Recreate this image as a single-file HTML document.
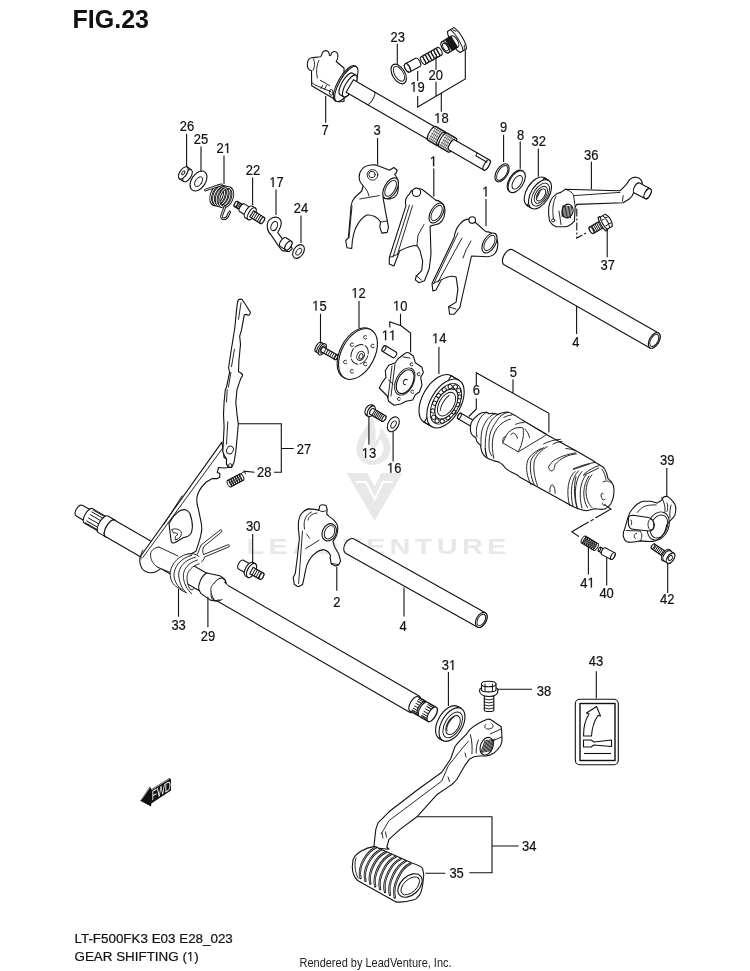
<!DOCTYPE html>
<html><head><meta charset="utf-8">
<style>
html,body{margin:0;padding:0;background:#fff;}
body{width:750px;height:971px;overflow:hidden;position:relative;}
svg{position:absolute;left:0;top:0;will-change:transform;}
.t{font-family:"Liberation Sans",sans-serif;font-size:14.1px;fill:#111;text-anchor:middle;stroke:#111;stroke-width:0.2;}
.l{stroke:#111;stroke-width:1.1;fill:none;}
.p{stroke:#111;stroke-width:1.1;fill:#fff;stroke-linejoin:round;stroke-linecap:round;}
.n{stroke:#111;stroke-width:0.9;fill:none;stroke-linecap:round;}
.wm{font-family:"Liberation Sans",sans-serif;font-weight:bold;fill:#ececec;}
</style></head><body>
<svg width="750" height="971" viewBox="0 0 750 971">
<!--WATERMARK-->
<g fill="#e8e8e8" stroke="none">
<path d="M346.7,473 L367.5,473 L374.6,486.5 L381.5,473 L402.4,473 L374.6,521.2 Z"/>
<path d="M372,417.5 C366,428 357,437 356.5,449 C356.5,458 363,464.5 372.5,465 C382,465 390.5,458 390.5,448.5 C390.5,440 385.5,434 381,427 C380,434 378,439 375,442 C376.5,433 375.5,424 372,417.5 Z"/></g><path d="M368,436 C364,443 362,449 363.5,454 C365.5,459 370,461 374,460 C380,458.5 384,453 383.5,447 C383,444 381.5,441 380,439 C379,444 376,448 372.5,449.5 C370.5,446 369,441 368,436 Z" fill="#fff"/><g fill="#e8e8e8" stroke="none">
<text transform="translate(246.5 553.5) scale(1.33 1)" style="font-family:'Liberation Sans',sans-serif;font-weight:bold;font-size:21.8px;letter-spacing:3.2px;">LEADVENTURE</text>
</g>
<path d="M356,482 L366,482 L374.6,499 L383,482 L393,482" fill="none" stroke="#fff" stroke-width="2.2"/>
<!--PARTS-->
<path class="p" d="M311.5,70.7 C308.5,70.5 307,67.5 307.3,64 C307.6,60.5 309,58.3 311.5,57.8 C314,57.3 317,57.5 320.5,56.8 C321.5,56.3 321.8,55 322.3,53 C323,51.3 324.5,50.5 326,50.6 C328,50.8 329.2,52.5 329.3,55 C329.8,55.8 330.3,55.8 330.8,55 C331.5,52.5 333,51.3 334.8,51.5 C336.5,51.8 337.8,53 337.9,55.5 C338,58 337.3,60 336.2,61.5 L344,68 L344,101.5 L339,101.7 L311.7,85.7 Z"/>
<path class="n" d="M319,60.5 C316.5,64 316,72 317.3,78 M313.5,59 C315,62 315,67 313,70.5 M311.7,82.5 L315,85 L331,91.7 M320.3,80.3 L329.7,85.7 M322.5,85.5 L321,88.5 M326.5,85.5 L324.5,89.5"/><ellipse class="n" cx="331.2" cy="92.3" rx="1.8" ry="3"/>
<g transform="translate(346.3,84) rotate(30)"><ellipse class="p" cx="-1.5" cy="0" rx="7" ry="20"/><path class="p" d="M-1.5,-20 H0 V20 H-1.5 Z" stroke="none"/><ellipse class="p" cx="0" cy="0" rx="7" ry="20"/><path class="p" d="M0,-12.5 H4 A4.5,12.5 0 0 1 4,12.5 H0 A4.5,12.5 0 0 1 0,-12.5 Z"/><ellipse class="p" cx="4" cy="0" rx="4.5" ry="12.5"/><path class="p" d="M4,-7.3 H100 V7.3 H4 Z" /><path class="n" d="M28,-7.3 A2.6,7.3 0 0 1 28,7.3"/><path class="p" d="M99,-8 H109.5 A2.88,8 0 0 1 109.5,8 H99 A2.88,8 0 0 1 99,-8 Z"/><path d="M98,-7.39 H109.5M98,-5.66 H109.5M98,-3.06 H109.5M98,-0.00 H109.5M98,3.06 H109.5M98,5.66 H109.5M98,7.39 H109.5" stroke="#111" stroke-width="0.45" fill="none"/><path d="M99.42,-8 v16M101.25,-8 v16M103.08,-8 v16M104.92,-8 v16M106.75,-8 v16M108.58,-8 v16" stroke="#111" stroke-width="0.45" fill="none"/><path class="p" d="M109.5,-7.2 H112 A2.592,7.2 0 0 1 112,7.2 H109.5 A2.592,7.2 0 0 1 109.5,-7.2 Z"/><path class="p" d="M112,-8 H122 A2.88,8 0 0 1 122,8 H112 A2.88,8 0 0 1 112,-8 Z"/><path d="M111,-7.39 H122M111,-5.66 H122M111,-3.06 H122M111,-0.00 H122M111,3.06 H122M111,5.66 H122M111,7.39 H122" stroke="#111" stroke-width="0.45" fill="none"/><path d="M112.38,-8 v16M114.12,-8 v16M115.88,-8 v16M117.62,-8 v16M119.38,-8 v16M121.12,-8 v16" stroke="#111" stroke-width="0.45" fill="none"/><path class="p" d="M122,-5.8 H162 A2.32,5.8 0 0 1 162,5.8 H122 A2.32,5.8 0 0 1 122,-5.8 Z"/><ellipse class="p" cx="162" cy="0" rx="2.32" ry="5.8"/><path class="n" d="M148,-5.8 V-2.6 H161"/></g>
<g transform="translate(398.7,74) rotate(-31)"><ellipse class="p" cx="0" cy="0" rx="6.2" ry="10.8"/><ellipse class="n" cx="0.3" cy="0" rx="4.3" ry="8.3"/></g>
<g transform="translate(407.5,67.8) rotate(-28)"><path class="p" d="M11.5,-4.7 H0 A2.35,4.7 0 0 0 0,4.7 H11.5 A2.35,4.7 0 0 0 11.5,-4.7 Z"/><ellipse class="p" cx="0" cy="0" rx="2.35" ry="4.7"/><path class="n" d="M1.5,-2 C2.5,-1 2.5,1 1.5,2"/></g>
<g transform="translate(423,60.6) rotate(-29.5)"><ellipse class="n" cx="0.00" cy="0" rx="1.85" ry="4.4"/><ellipse class="n" cx="3.17" cy="0" rx="1.85" ry="4.4"/><ellipse class="n" cx="6.33" cy="0" rx="1.85" ry="4.4"/><ellipse class="n" cx="9.50" cy="0" rx="1.85" ry="4.4"/><ellipse class="n" cx="12.67" cy="0" rx="1.85" ry="4.4"/><ellipse class="n" cx="15.83" cy="0" rx="1.85" ry="4.4"/><ellipse class="n" cx="19.00" cy="0" rx="1.85" ry="4.4"/><path class="n" d="M0,-4.4 H19 M0,4.4 H19"/></g>
<g transform="translate(445.2,47.2) rotate(-31)"><path class="p" d="M10,-12.3 L17.5,-12.3 C20.5,-7 20.5,7 17.5,12.3 L10,12.3 C7,7 7,-7 10,-12.3 Z"/><path class="n" d="M13.5,-12.3 C16,-6 16,6 13.5,12.3 M15.5,-11 L17.5,-8 M15.5,11 L17.5,8"/><path class="p" d="M11,-6.4 H0 A3.072,6.4 0 0 0 0,6.4 H11 A3.072,6.4 0 0 0 11,-6.4 Z"/><ellipse class="p" cx="0" cy="0" rx="3.072" ry="6.4"/><path class="n" d="M3.97,-6.4 v12.8M4.91,-6.4 v12.8M5.84,-6.4 v12.8M6.78,-6.4 v12.8M7.72,-6.4 v12.8M8.66,-6.4 v12.8M9.59,-6.4 v12.8M10.53,-6.4 v12.8" stroke-width="0.6"/><ellipse class="n" cx="0.3" cy="0" rx="2.2" ry="4.2"/></g>
<g transform="translate(185,174) rotate(34)"><path class="p" d="M-2,-7 H3 V7 H-2 Z"/><ellipse class="p" cx="3" cy="0" rx="3.5" ry="7"/><ellipse class="p" cx="-2" cy="0" rx="3.5" ry="7"/><ellipse class="n" cx="-2" cy="0" rx="1.2" ry="2.4"/></g>
<g transform="translate(198.5,181) rotate(34)"><ellipse class="p" cx="0" cy="0" rx="7" ry="11"/><ellipse class="n" cx="0.5" cy="0.5" rx="3.2" ry="5.5"/></g>
<ellipse cx="217.60" cy="195.20" rx="6.3" ry="10.2" transform="rotate(22 217.60 195.20)" fill="none" stroke="#111" stroke-width="2.7"/><ellipse cx="217.60" cy="195.20" rx="6.3" ry="10.2" transform="rotate(22 217.60 195.20)" fill="none" stroke="#fff" stroke-width="0.9"/><ellipse cx="220.37" cy="195.90" rx="6.3" ry="10.2" transform="rotate(22 220.37 195.90)" fill="none" stroke="#111" stroke-width="2.7"/><ellipse cx="220.37" cy="195.90" rx="6.3" ry="10.2" transform="rotate(22 220.37 195.90)" fill="none" stroke="#fff" stroke-width="0.9"/><ellipse cx="223.14" cy="196.60" rx="6.3" ry="10.2" transform="rotate(22 223.14 196.60)" fill="none" stroke="#111" stroke-width="2.7"/><ellipse cx="223.14" cy="196.60" rx="6.3" ry="10.2" transform="rotate(22 223.14 196.60)" fill="none" stroke="#fff" stroke-width="0.9"/><ellipse cx="225.91" cy="197.30" rx="6.3" ry="10.2" transform="rotate(22 225.91 197.30)" fill="none" stroke="#111" stroke-width="2.7"/><ellipse cx="225.91" cy="197.30" rx="6.3" ry="10.2" transform="rotate(22 225.91 197.30)" fill="none" stroke="#fff" stroke-width="0.9"/><path d="M221.3,184.8 L205.5,190 M225,206.7 L221.5,216 C221,219.5 226.5,221 228.8,213.5 L229.9,212" fill="none" stroke="#111" stroke-width="2.7" stroke-linecap="round"/><path d="M221.3,184.8 L205.5,190 M225,206.7 L221.5,216 C221,219.5 226.5,221 228.8,213.5 L229.9,212" fill="none" stroke="#fff" stroke-width="0.9" stroke-linecap="round"/>
<g transform="translate(236,204) rotate(32)"><path class="p" d="M7.5,-3 H0 A1.35,3 0 0 0 0,3 H7.5 A1.35,3 0 0 0 7.5,-3 Z"/><ellipse class="p" cx="0" cy="0" rx="1.35" ry="3"/><path class="n" d="M1.75,-3 v6M3.25,-3 v6M4.75,-3 v6M6.25,-3 v6" stroke-width="0.6"/><path class="p" d="M7,-4.5 H15 A2.025,4.5 0 0 1 15,4.5 H7 A2.025,4.5 0 0 1 7,-4.5 Z"/><path class="p" d="M15,-6.8 H18.5 A3.06,6.8 0 0 1 18.5,6.8 H15 A3.06,6.8 0 0 1 15,-6.8 Z"/><ellipse class="p" cx="18.5" cy="0" rx="3.06" ry="6.8"/><path class="p" d="M18.5,-3.6 H31 A1.6,3.6 0 0 1 31,3.6 H18.5 Z"/><path class="n" d="M20.60,-3.6 v7.2M22.80,-3.6 v7.2M25.00,-3.6 v7.2M27.20,-3.6 v7.2M29.40,-3.6 v7.2" stroke-width="0.6"/><ellipse class="p" cx="31" cy="0" rx="1.6" ry="3.6"/></g>
<g transform="translate(-0.8 1.6)"><path class="p" d="M270.5,218 C275.5,213.5 282.5,215.5 282,222.5 C281.5,226.5 279.5,228.5 278.5,231 L283,237 L289,239 L293,247 L290,250 L283,249 L279,244 L272,233.5 C267.5,229.5 266.5,221.5 270.5,218 Z"/><ellipse class="n" cx="275" cy="224.5" rx="3" ry="4.8" transform="rotate(22 275 224.5)"/></g>
<g transform="translate(286.5,244.3) rotate(34)"><path class="p" d="M-4,-5.2 H2.2 A2.6,5.2 0 0 1 2.2,5.2 H-4 A2.6,5.2 0 0 1 -4,-5.2 Z"/><ellipse class="p" cx="2.2" cy="0" rx="2.6" ry="5.2"/></g>
<g transform="translate(298.5,251.5) rotate(34)"><ellipse class="p" cx="0" cy="0" rx="5" ry="7.5"/><ellipse class="n" cx="0.3" cy="0" rx="2.2" ry="4"/></g>
<g transform="translate(502,172.8) rotate(32)"><ellipse class="p" cx="0" cy="0" rx="5.6" ry="10"/><ellipse class="n" cx="0.3" cy="0" rx="4.2" ry="8.3"/></g>
<g transform="translate(516.7,181.6) rotate(32)"><ellipse class="p" cx="-1" cy="0" rx="6.8" ry="12.2"/><ellipse class="p" cx="0" cy="0" rx="6.8" ry="12.2"/><ellipse class="n" cx="0.8" cy="0.3" rx="4" ry="7.6"/></g>
<g transform="translate(540,194.3) rotate(32)"><ellipse class="p" cx="-5" cy="0" rx="9" ry="16.3"/><path class="p" d="M-5,-16.3 H0 V16.3 H-5 Z" stroke="none"/><path class="n" d="M-5,-16.3 H0 M-5,16.3 H0"/><ellipse class="p" cx="0" cy="0" rx="9" ry="16.3"/><ellipse class="n" cx="0.6" cy="0" rx="7" ry="12.8"/><ellipse class="n" cx="1" cy="0" rx="5.2" ry="9.5"/><ellipse class="n" cx="1.2" cy="0" rx="3.6" ry="6.8"/><path d="M-1.5,-4 C-3,-1 -2.5,3 0,5.5 C-0.5,2 -0.5,-1 -1.5,-4 Z" fill="#333"/></g>
<path class="p" d="M548.8,206.8 C550,201 552,197.5 554.4,195.6 C556.5,193.5 558.5,192.8 560.8,192.4 L565.6,189.2 L591.2,190 L620,190.8 C622.5,188.5 624.5,186.5 626.4,184.4 L629.6,179.6 C631.5,177.8 633.5,177 636,177.2 C638,177.4 639.8,178.3 640.8,179.6 C641.8,181 642.3,182.5 642.4,184.4 L636,188 L632,196 L629.6,198.8 L623.2,202.8 L576.8,204.4 L575.2,206.8 L574.4,221.2 C571,225 568,226.5 565.6,226.8 L556,226.8 C553,225.5 551,223.5 549.6,221.2 C548.5,216.5 548.3,211 548.8,206.8 Z"/>
<path class="n" d="M573.6,195.6 L620,192.4 M565.6,189.2 C570,191 573,193 573.6,195.6 L575.2,206.8 M556,196.5 C553,201 552,210 553.5,219 M623.2,195.6 L622.4,201.2 M559,211 L561,224.5"/>
<ellipse class="p" cx="567.5" cy="211" rx="5.5" ry="7" transform="rotate(15 567.5 211)"/><path class="n" d="M563.0,205.5 L562.0,216.5 M564.4,205.7 L563.4,216.7 M565.8,205.9 L564.8,216.9 M567.2,206.1 L566.2,217.1 M568.6,206.3 L567.6,217.3 M570.0,206.5 L569.0,217.5 M571.4,206.7 L570.4,217.7 " stroke-width="0.6"/><circle class="n" cx="553.2" cy="220.4" r="1.6"/>
<g transform="translate(637,188) rotate(28)"><path class="p" d="M0,-5.6 H12 A2.8,5.6 0 0 1 12,5.6 H0 A2.8,5.6 0 0 1 0,-5.6 Z"/><ellipse class="p" cx="12" cy="0" rx="2.8" ry="5.6"/></g>
<g transform="translate(591.5,230.2) rotate(-30)"><path class="p" d="M13,-3.7 H0 A1.665,3.7 0 0 0 0,3.7 H13 A1.665,3.7 0 0 0 13,-3.7 Z"/><ellipse class="p" cx="0" cy="0" rx="1.665" ry="3.7"/><path class="n" d="M2.42,-3.7 v7.4M4.25,-3.7 v7.4M6.08,-3.7 v7.4M7.92,-3.7 v7.4M9.75,-3.7 v7.4M11.58,-3.7 v7.4" stroke-width="0.6"/><path class="p" d="M12,-7.8 L14,-7.8 C15.5,-4 15.5,4 14,7.8 L12,7.8 C10.5,4 10.5,-4 12,-7.8 Z"/><path class="p" d="M14,-7 L20,-7 C22.5,-3.5 22.5,3.5 20,7 L14,7 C12.5,3.5 12.5,-3.5 14,-7 Z"/><path class="n" d="M17,-7 C18.5,-3 18.5,3 17,7 M14.5,-3.5 H20.5 M14.5,3.5 H20.5"/></g>
<path class="p" d="M361.8,169.5 C364,166 368,164.8 375.2,164.8 L389.9,170.2 L390.6,169.5 L393.9,167.5 L397.2,170.2 L395.9,173.5 L394.5,174.2 C398.5,178 399.5,190 396.6,195 C394,199 388,200 383,197.5 L385.9,213.7 L388.5,227.1 L387.2,232.4 L381.9,233.1 L379.8,227.1 L380.5,221.7 C378,217 372,214.5 367.1,215 C360,218 355,228 353.7,233.8 L352.4,240.5 L351.7,248.5 L347,247.8 L345.7,240.5 L348.4,237.8 L351.1,205.7 C352,199 356,196 361.8,191 L363.1,185.6 C358,181 358,174 361.8,169.5 Z"/>
<circle class="n" cx="372.5" cy="174.9" r="5.3"/><circle class="n" cx="372" cy="174.5" r="3.2"/><path class="n" d="M359.8,199 L379.2,195.6 M363,186 C366,188 368,192 369,196 M352,206 L349,238 M381,222 L387,221"/>
<g transform="translate(390.6,188.3) rotate(30)"><ellipse class="p" cx="0" cy="0" rx="6.2" ry="11.5"/><ellipse class="n" cx="0" cy="0" rx="4.5" ry="8.8"/></g>
<path class="p" d="M409.7,193.6 C411,189 420,187.5 423,190 L435.7,200.1 C442,201 445.5,206 444.9,212 C444.5,219 441,224 436,224.5 L430.1,226.1 L431,253.9 L429.2,268.7 L424.5,280.8 L419,282.7 L415.3,279.9 L416.2,276.2 L421.7,270.6 L422.7,261.3 L419.9,250.2 L417.1,245.5 C412,245.5 406,247.4 399.5,251.1 L398.6,253.9 L393.9,266 L389.3,264.1 L389.3,257.6 L406,205.7 C404.5,201 406,197 409.7,193.6 Z"/>
<path class="n" d="M412.5,205.7 L397.6,253.9 M409.5,205 L393,257 M389.5,257.5 L398.5,254 M416,275.5 L421.5,280 M424,224.5 L418,235 L417,245"/><circle class="p" cx="416.5" cy="192.3" r="4.2"/>
<g transform="translate(436.6,213) rotate(30)"><ellipse class="p" cx="0" cy="0" rx="6" ry="11"/><ellipse class="n" cx="0" cy="0" rx="4.3" ry="8.5"/></g>
<path class="p" d="M459.8,224.2 C463,220 468,218.5 472,219.5 L485.8,231.6 C493,232 498,237 497.8,245 C497.5,252 494,256 488,256.7 L471.5,256 L463.5,291 L459.8,307.7 L454.2,314.2 L449.6,314.2 L448.6,306.8 L456.1,302.1 L457.9,289.1 L456.1,277.1 C453,275.5 447,276.5 441.2,279.9 L436,290 L432.9,291 L432,283.6 L454.2,237.2 C455,232 456.5,228 459.8,224.2 Z"/>
<path class="n" d="M462,238 L438,282 M458,233 L434,283 M432.5,284 L440,280 M449,307 L456,309 M471,241 L466,250 L463,258"/><circle class="p" cx="472.2" cy="220.1" r="3.3"/>
<g transform="translate(489.5,243) rotate(30)"><ellipse class="p" cx="0" cy="0" rx="6" ry="11"/><ellipse class="n" cx="0" cy="0" rx="4.3" ry="8.5"/></g>
<g transform="translate(508.3,257.2) rotate(29.7)"><path class="p" d="M0,-8.6 H168 A4.73,8.6 0 0 1 168,8.6 H0 A4.73,8.6 0 0 1 0,-8.6 Z"/><ellipse class="p" cx="168" cy="0" rx="4.73" ry="8.6"/><ellipse class="n" cx="168" cy="0" rx="3.6" ry="6.6"/></g>
<g transform="translate(322.3,349.3) rotate(30)"><path class="p" d="M-5.5,-5.2 L-1.5,-5.6 C0,-3 0,3 -1.5,5.6 L-5.5,5.2 C-7.3,3 -7.3,-3 -5.5,-5.2 Z"/><path class="n" d="M-4,-5.3 C-5,-2 -5,2 -4,5.3"/><ellipse class="p" cx="0" cy="0" rx="2.9" ry="6.2"/><ellipse class="n" cx="0.3" cy="0" rx="1.9" ry="4.1"/><path class="p" d="M0.3,-2.6 H16 A1.3,2.6 0 0 1 16,2.6 H0.3 A1.2,2.6 0 0 1 0.3,-2.6 Z"/><path class="n" d="M3.12,-2.6 v5.2M5.38,-2.6 v5.2M7.62,-2.6 v5.2M9.88,-2.6 v5.2M12.12,-2.6 v5.2M14.38,-2.6 v5.2" stroke-width="0.6"/><ellipse class="p" cx="16" cy="0" rx="1.2" ry="2.6"/></g>
<g transform="translate(358,354) rotate(28)"><ellipse class="p" cx="-1.6" cy="0" rx="16.5" ry="27.5"/><ellipse class="p" cx="0" cy="0" rx="16.5" ry="27.5"/></g>
<ellipse class="n" cx="359.6" cy="354.3" rx="8.2" ry="10.2" transform="rotate(28 359.6 354.3)" stroke-dasharray="9,2"/><ellipse class="n" cx="360.6" cy="355.8" rx="3.6" ry="4.8" transform="rotate(28 360.6 355.8)"/><ellipse class="n" cx="361" cy="356.3" rx="1.8" ry="2.8" transform="rotate(28 361 356.3)"/>
<path class="n" d="M366.5,335.90000000000003 A1.8,1.8 0 1 0 366.8,338.40000000000003" stroke-width="1.4"/>
<path class="n" d="M373.9,344.6 A1.8,1.8 0 1 0 374.2,347.1" stroke-width="1.4"/>
<path class="n" d="M366.5,362.6 A1.8,1.8 0 1 0 366.8,365.1" stroke-width="1.4"/>
<path class="n" d="M353.2,369.90000000000003 A1.8,1.8 0 1 0 353.5,372.40000000000003" stroke-width="1.4"/>
<path class="n" d="M346.5,360.6 A1.8,1.8 0 1 0 346.8,363.1" stroke-width="1.4"/>
<path class="n" d="M353.2,343.3 A1.8,1.8 0 1 0 353.5,345.8" stroke-width="1.4"/>
<g transform="translate(384,348.5) rotate(31)"><path class="p" d="M12.5,-3.2 H0 A1.4400000000000002,3.2 0 0 0 0,3.2 H12.5 A1.4400000000000002,3.2 0 0 0 12.5,-3.2 Z"/><ellipse class="p" cx="0" cy="0" rx="1.4400000000000002" ry="3.2"/></g>
<path class="p" d="M402.7,355.3 C404.5,353 407,352.3 408.7,352.7 L413.3,356 L415.3,362.7 L422,367.3 L423.3,372.7 L420.7,377.3 L422,385.3 L419.3,392 L415.3,394.7 L412.7,400 L406,401.3 L400.7,404 L394,405.3 L388.7,401.3 L387.3,396 L383.3,392 L379.3,388 L382,382.7 L386,377.3 L385.3,370.7 L388.7,365.3 L395.3,362.7 L398,358.7 Z"/>
<g transform="translate(404.8,381.5) rotate(27)"><ellipse class="n" cx="0" cy="0" rx="8.8" ry="14.6"/><ellipse class="p" cx="0.4" cy="0" rx="7.6" ry="12.8"/><path class="n" d="M1.5,-2.6 A2.2,2.8 0 1 0 2.2,2.4"/></g>
<path class="n" d="M392,366 L388,398 M395,364 L391,396 M403,357 L410,358 M388.5,380 L393,384"/>
<path class="n" d="M413.0,363.40000000000003 A1.6,1.6 0 1 0 412.8,365.5"/>
<path class="n" d="M420.1,373.20000000000005 A1.6,1.6 0 1 0 419.90000000000003,375.3"/>
<path class="n" d="M413.8,390.90000000000003 A1.6,1.6 0 1 0 413.6,393.0"/>
<path class="n" d="M400.3,398.0 A1.6,1.6 0 1 0 400.1,400.09999999999997"/>
<g transform="translate(445.5,403.5) rotate(30)"><ellipse class="p" cx="-9" cy="0" rx="15" ry="26.9"/><path class="p" d="M-9,-26.9 H0 V26.9 H-9 Z" stroke="none"/><path class="n" d="M-9,-26.9 H0 M-9,26.9 H0"/><ellipse class="p" cx="0" cy="0" rx="15" ry="26.9"/><ellipse class="n" cx="0.5" cy="0" rx="12.6" ry="22.3"/><circle class="n" cx="11.44" cy="3.35" r="2.1" stroke-width="0.7"/><circle class="n" cx="9.57" cy="11.27" r="2.1" stroke-width="0.7"/><circle class="n" cx="5.97" cy="16.95" r="2.1" stroke-width="0.7"/><circle class="n" cx="1.34" cy="19.28" r="2.1" stroke-width="0.7"/><circle class="n" cx="-3.40" cy="17.78" r="2.1" stroke-width="0.7"/><circle class="n" cx="-7.30" cy="12.77" r="2.1" stroke-width="0.7"/><circle class="n" cx="-9.60" cy="5.23" r="2.1" stroke-width="0.7"/><circle class="n" cx="-9.84" cy="-3.35" r="2.1" stroke-width="0.7"/><circle class="n" cx="-7.97" cy="-11.27" r="2.1" stroke-width="0.7"/><circle class="n" cx="-4.37" cy="-16.95" r="2.1" stroke-width="0.7"/><circle class="n" cx="0.26" cy="-19.28" r="2.1" stroke-width="0.7"/><circle class="n" cx="5.00" cy="-17.78" r="2.1" stroke-width="0.7"/><circle class="n" cx="8.90" cy="-12.77" r="2.1" stroke-width="0.7"/><circle class="n" cx="11.20" cy="-5.23" r="2.1" stroke-width="0.7"/><ellipse class="p" cx="1" cy="0" rx="9.4" ry="16.6"/><ellipse class="n" cx="1.2" cy="0" rx="7.4" ry="13"/><path class="n" d="M-1,-9 C-3,-3 -3,4 -1,9"/></g>
<g transform="translate(371.3,411.3) rotate(30)"><ellipse class="p" cx="-2.2" cy="0" rx="3.9" ry="5.9"/><path class="p" d="M-2.2,-5.9 H0 V5.9 H-2.2 Z" stroke="none"/><ellipse class="p" cx="0" cy="0" rx="3.3" ry="5.9"/><path class="p" d="M0.3,-3.3 H14.5 A1.5,3.3 0 0 1 14.5,3.3 H0.3 A1.4,3.3 0 0 1 0.3,-3.3 Z"/><path class="n" d="M2.65,-3.3 v6.6M4.35,-3.3 v6.6M6.05,-3.3 v6.6M7.75,-3.3 v6.6M9.45,-3.3 v6.6M11.15,-3.3 v6.6" stroke-width="0.6"/><ellipse class="p" cx="14.5" cy="0" rx="1.5" ry="3.3"/></g>
<g transform="translate(393.3,424.3) rotate(30)"><ellipse class="p" cx="0" cy="0" rx="5.2" ry="8"/><ellipse class="n" cx="0.3" cy="0" rx="2.2" ry="3.8"/></g>
<g transform="translate(459.5,416) rotate(30)"><path class="p" d="M13.5,-3.2 H0 A1.4400000000000002,3.2 0 0 0 0,3.2 H13.5 A1.4400000000000002,3.2 0 0 0 13.5,-3.2 Z"/><ellipse class="p" cx="0" cy="0" rx="1.4400000000000002" ry="3.2"/></g>
<path class="p" d="M471.7,421.7 C473,419 474.5,417.5 476.4,416.4 C478,414.5 480,413.3 481.7,412.7 C483.5,412.2 485,412.2 486.4,412.4 C487.5,412.7 488.5,413.3 489.1,413.7 C490.5,413.3 492,413.2 493.1,413.4 L497.8,414.4 C499.5,413.5 501,413 502.5,412.7 C504.5,412.2 506,412 507.8,412 C509.5,412.3 510.8,413 511.9,413.7 L515,415.4 L522.9,420.4 L546.7,434.7 L576,450.7 L592,460 L596,462.7 L602.7,466.7 C605,469 606,471 606.7,473.3 L608,478.7 C609,479.5 611,481 612,482.7 C613.5,485 614,487 614,489.3 C614,492 613.8,495 613.3,497.3 C612.5,500 611.8,502 610.7,504 C609,506.5 607.5,508 605.3,508.7 C603.5,509.3 601.5,509.5 600,509.3 L594.7,508.7 L586.7,510.7 C584,510.5 582,510 580,509.3 L573.3,506.7 L546.7,492 L520,477.3 L517.3,475 L511.7,472.2 C509,471 507,469.5 505.2,467.9 C504,466.3 503.3,465.3 502.5,464.6 C501,463.3 499.8,462.5 498.5,461.9 L493.1,460.6 C491,459.7 489,458.9 487.1,457.9 C485.5,457 484.5,456.2 483.7,455.2 C482.5,453.5 481.6,451.5 481.1,449.2 C480.9,447.7 480.7,446.4 480.4,445.2 C479,443.8 477.8,442.8 477,441.8 C476.5,440.3 476.2,438.9 475.7,437.8 C474.5,436.8 473.3,436 472.4,435.1 C471.5,434 471,433 470.7,431.8 C470.4,430 470.3,428.5 470.4,427.1 C470.5,425 471,423 471.7,421.7 Z"/>
<path class="n" d="M486.4,412.4 C480,415 476,425 476.4,431.8 C476.5,434 476.8,436 477,437.1 M494.5,413.7 C488,416 483,425 481.7,431.8 C480.8,437 480.8,442 481.1,445.2 M498.5,414.4 C492,417 488,425 486.5,432 C485,440 485,447 485.7,451.9 C486,454 486.5,456 487.1,457.2 M507.8,412.4 C502,414 499,417 497.1,420.4 C493,426 490.5,431 489.8,435.1 C489,440 488.8,445 489.1,448.5 C489.5,451.5 490.5,454 491.8,455.9 M510.5,419.1 C506,420.5 502.5,422.5 499.8,425.1 C496,429 494,433 493.1,437.1 C492.3,441 492.2,445 492.4,448.5 C492.7,452 493.2,455.5 493.8,458.5 M503.8,417.4 C506.5,416 509,415.3 511.9,415 M485.1,448.5 C485.3,451 485.8,453.8 486.4,455.9" stroke-width="1"/>
<path class="n" d="M502.9,443 C502.5,441 502.7,439.5 503.4,438.3 C503.8,437.3 504.5,436.6 505.3,436.4 M503.4,441.5 C505,438 506.5,435 508.1,432.7 C510.5,430.5 513,429 515.5,428.1 C518,427.5 520,427.4 522.1,427.6 M510.9,434.6 C511.5,433.5 512.5,433 513.7,433.2 C515.5,433.8 517,436 517.4,438.3 M523,428.1 C523.6,431 523.6,434.5 523,438.3 C522,443 520.5,448 518.3,451.4 M524.9,429 C527,431 528.8,434 529.5,437.4 M502.9,443 L518.3,451.9 L545.4,435.5 M515.5,424.3 C518,423.2 521,422.6 524,422.5 M522.9,420.4 L546.7,434.2"/>
<path class="n" d="M543.6,444 C548,441.5 554,439.8 560.4,439.3 M541.3,448.5 C535,451.5 529.5,455.5 527.5,461 C525.5,468 527,477 531,484.8 M544,447.5 C538,451 533,455 531,460.5 C529.5,467 530.5,477 534.5,485.5 M547.3,446.5 C541.5,450 536.5,455 534.5,460.5 C533,467 534,477 537.5,485.5 M575.5,452.8 C570,454 563,455.5 558.4,458.1 C554,460 551.5,462 550.9,463.5 C549,465.5 548.5,466.8 548.8,467.7 C549,469.5 549.8,470.5 550.9,470.9 C552.5,471.2 553.5,470 554.1,468.8 C554.5,466.5 555,465 555.2,464.5 C558,461 561,459 564.8,457.1 C568.5,455.3 572.5,454.2 576.5,453.9 M549.9,492 C549.5,488 550.5,485.5 552,484.8 C553.5,484.8 555,487.5 555.2,493.3 M565.9,448.5 C569,448.7 572.5,449.5 575.5,450.7 M553,444 C556,442.5 559,441.8 562,441.5"/>
<path class="n" d="M573.3,468.8 C580,466 588,463.5 594.7,462.4 M575,471.5 C568,477 566,492 569.5,505.5 M578.5,470.8 C571.5,477.5 569.5,492 573,506.5 M582,471.5 C575.5,478 573.5,493 577,507.5 M584,474.1 C589,470 594,467 599,465.6 M586,475 C580,482 578.5,495 582,508 M576,476.8 C573.5,486 574,500 577.5,509 M592,474.8 C584,484 584,500 592,507.6 M589,476 C582.5,485 582,499 587.5,507.5"/>
<path class="n" d="M573.3,469.4 L589.4,464 M583.4,475.4 L598.8,468 M602,469.4 C604,472 605.5,476 606,479.5 M603,482 C606,480.3 609,480.5 611,483 M603.5,494 C601,491 600,496 602.5,499.5 C603.5,500.3 604.5,500 605.3,499 M602.5,503 C602,504.8 603.5,505.8 605.3,504.5"/>
<path class="p" d="M623.4,536.7 C623,533 623.5,531 624.3,530.1 L628.1,517.1 C629,514 630,512 631.3,510.5 C633.5,507.5 635.5,505.5 637.4,504 C639.5,502.5 641,501.6 643,501.2 L650.5,501.2 C653,501.5 655,502.2 657,503.1 L661.7,500.3 C662.5,498.5 663,497.5 663.6,497 C665,496.3 666,496.3 667.3,496.5 C669,497.3 670,498.2 671,499.3 C673,501.5 674,502.8 674.8,504 C675.7,506.5 676,508.5 675.7,510.5 C675.5,512.5 675.2,514 674.8,515.2 C673.5,517.5 672,519 671,519.9 L667.3,523.6 C666.5,526 666,528 665.4,530.1 C664.5,533 663,535 661.7,536.7 C660,538.5 657.5,540 655.1,540.9 C652,541.6 649,541.6 646.7,541.4 L640.2,540.9 C637,541.5 634,542.3 630.9,542.3 C629,542.2 627.5,541.9 626.2,541.4 C624.5,540 623.8,538.5 623.4,536.7 Z"/>
<ellipse class="n" cx="658.3" cy="526" rx="10.4" ry="14.6" transform="rotate(22 658.3 526)"/><ellipse class="n" cx="659" cy="526.5" rx="8.2" ry="12" transform="rotate(22 659 526.5)"/><path class="n" d="M637.4,512.4 C640,509 643,506.5 645.8,505.9 C649.5,505 653,504.8 656.1,504.9 M661.7,497.5 C664,502 665.5,506 665,512 M667,503 C668,506 668,509 667,511.5 M671,505 C670,509 669.5,514 670,518 M626,530.5 L640,531 C642.5,534 642.5,538 640.2,540.9 M636.5,533.5 C634,533.5 633,537 635.5,538.5"/>
<path class="p" d="M628.5,517 C629.5,515.6 631,515.2 633,515.2 L648.6,517.5 C652,518.5 654.2,522 654.2,525.5 C654.2,529 652,531 648.6,531 L633,529.2 C630,529 628.5,527 628.3,523 Z"/><ellipse class="n" cx="651" cy="524.5" rx="3" ry="5.5"/><path class="n" d="M631,520 C632,522 632,524 631,525"/>
<g transform="translate(583.5,539.5) rotate(31)"><ellipse class="n" cx="0.00" cy="0" rx="1.60" ry="4"/><ellipse class="n" cx="2.07" cy="0" rx="1.60" ry="4"/><ellipse class="n" cx="4.14" cy="0" rx="1.60" ry="4"/><ellipse class="n" cx="6.21" cy="0" rx="1.60" ry="4"/><ellipse class="n" cx="8.29" cy="0" rx="1.60" ry="4"/><ellipse class="n" cx="10.36" cy="0" rx="1.60" ry="4"/><ellipse class="n" cx="12.43" cy="0" rx="1.60" ry="4"/><ellipse class="n" cx="14.50" cy="0" rx="1.60" ry="4"/><path class="n" d="M0,-4 H14.5 M0,4 H14.5"/></g>
<g transform="translate(599.5,549.2) rotate(27)"><path class="p" d="M0,-2.3 H5 V2.3 H0 Z"/><ellipse class="p" cx="0" cy="0" rx="1" ry="2.3"/><path class="p" d="M4.5,-3.8 H15 A1.71,3.8 0 0 1 15,3.8 H4.5 A1.71,3.8 0 0 1 4.5,-3.8 Z"/><ellipse class="p" cx="15" cy="0" rx="1.71" ry="3.8"/></g>
<g transform="translate(653,546.3) rotate(34)"><path class="p" d="M0,-2.8 H16 V2.8 H0 Z"/><ellipse class="p" cx="0" cy="0" rx="1.3" ry="2.8"/><path class="n" d="M2.38,-2.8 v5.6M4.12,-2.8 v5.6M5.88,-2.8 v5.6M7.62,-2.8 v5.6M9.38,-2.8 v5.6M11.12,-2.8 v5.6M12.88,-2.8 v5.6M14.62,-2.8 v5.6" stroke-width="0.6"/><path class="p" d="M15.5,-6.4 H17 A3.2,6.4 0 0 1 17,6.4 H15.5 A3.2,6.4 0 0 1 15.5,-6.4 Z"/><path class="p" d="M17,-5.9 H21.2 A3.2450000000000006,5.9 0 0 1 21.2,5.9 H17 A3.2450000000000006,5.9 0 0 1 17,-5.9 Z"/><ellipse class="p" cx="21.2" cy="0" rx="3.2450000000000006" ry="5.9"/><path class="n" d="M20.5,-3 L22.8,-1.5 L22.8,1.5 L20.5,3 L19.2,1.2 L19.2,-1.2 Z"/></g>
<g transform="translate(110,528.3) rotate(30)"><path class="p" d="M-25,-6.2 H-35 C-40,-6.2 -40,6.2 -35,6.2 H-25 Z"/><path class="p" d="M-25,-8.3 H-8 A3.486,8.3 0 0 1 -8,8.3 H-25 A3.486,8.3 0 0 1 -25,-8.3 Z"/><path class="n" d="M-24,-7.48 H-8.5M-24,-5.17 H-8.5M-24,-1.85 H-8.5M-24,1.85 H-8.5M-24,5.17 H-8.5M-24,7.48 H-8.5" stroke-width="0.6"/><path class="p" d="M-8,-9.6 H0 A4.032,9.6 0 0 1 0,9.6 H-8 A4.032,9.6 0 0 1 -8,-9.6 Z"/><ellipse class="p" cx="0" cy="0" rx="4.032" ry="9.6"/><path class="p" d="M0,-9.4 H352 A3.948,9.4 0 0 1 352,9.4 H0 A3.948,9.4 0 0 1 0,-9.4 Z"/></g>
<path class="p" d="M224.1,457.6 L226.5,458.8 L226.5,463.8 L228.4,467.5 L224,468 L218.5,467.5 L217.3,472.4 L219.8,473.6 L219.8,477.3 L217.3,478.6 L212.3,478.6 L206.3,482 C202,486 199,490 197.5,495 C196,500 197,505 198.5,509.7 L201,521.9 C202,527 202,531 201,534 C200,540 198,545 195.9,551.3 L180,560 L160.3,568.7 C157,572 153,573 149.7,572.7 C145,572 142,569 141.3,566.9 C139.5,563 139.5,559 140.4,556.5 L221.9,442.1 Z"/>
<path class="n" d="M224.5,445.6 L142.8,557.6 M182,495.9 L163.8,524.5 M143,550 C141,553 140.5,556 141,559"/>
<path class="p" d="M169,523.6 C172,518 176,513 180.3,510.6 C182,509.8 184,509.5 185.5,509.7 C187.5,510.5 189,512 189.8,513.2 C191.5,518 192.5,523 192.4,527 C192.2,530.5 191.5,532.5 190.7,534 C188.5,536.5 186,537.5 183.7,537.5 L176,542 C173,544 171,543 171,540 Z"/>
<path class="n" d="M172,529.5 C175,528 179,529 181,531.5 C182,534 181,537 178.5,538.5 L175.5,540 C174.5,537.5 175.5,535.5 177.5,535 C178,533.5 176,532 174,533 Z"/>
<path class="p" d="M237.7,301.6 C238,300 239,299.1 240.5,299.1 C241.5,299.1 242.5,299.8 243,300.8 L246.3,305.7 L250.4,312.3 C250,314 249.5,315 248.8,315.2 C248,315.4 247,314.6 246.3,314.4 C245.3,314.4 244.5,314.8 244.2,315.2 L243.4,319.7 L241.4,330.4 L239.7,336.2 L240.5,344.4 L239.7,352.7 L238.9,360.9 L238.5,371.6 C239.5,372 241,372.5 242.6,374.9 C242.4,376.5 241.5,377.5 240.7,378.6 L237,389.7 L235.8,402 L237,414.4 L238.3,424.3 L237,439 L235.8,451.4 L234,462.5 L233.3,463.8 C232.5,466 232,467.3 231.5,467.5 L228.4,467.5 L226.5,463.8 L226.5,458.8 L224.7,456.4 L222.8,451.4 L223.5,439 L224.1,426.7 L223.5,414.4 L224.1,402 L225.3,389.7 L226.5,387.2 L229.6,372.4 L228.6,367.5 L231.5,348.5 L234.8,328 L236.8,307.4 Z"/>
<path class="n" d="M241,302.8 L238.5,319.3 M234.4,349.4 L231.5,366.7 M230.9,372.4 L228.4,387.2 M227.2,389.7 L226.5,402 M227.8,421.8 L226.5,444"/><ellipse class="n" cx="230" cy="450" rx="3.2" ry="4" transform="rotate(25 230 450)"/><circle class="n" cx="230.3" cy="465.5" r="1.8"/>
<g transform="translate(229.3,483.6) rotate(-28)"><ellipse class="n" cx="0.00" cy="0" rx="1.67" ry="3.7"/><ellipse class="n" cx="2.33" cy="0" rx="1.67" ry="3.7"/><ellipse class="n" cx="4.67" cy="0" rx="1.67" ry="3.7"/><ellipse class="n" cx="7.00" cy="0" rx="1.67" ry="3.7"/><ellipse class="n" cx="9.33" cy="0" rx="1.67" ry="3.7"/><ellipse class="n" cx="11.67" cy="0" rx="1.67" ry="3.7"/><ellipse class="n" cx="14.00" cy="0" rx="1.67" ry="3.7"/><path class="n" d="M0,-3.6 H14 M0,3.6 H14 M14,-2 C17,-5 20,-3 19,-1"/></g>
<path d="M158.8,547 L192,562.5 L185,585 L168.4,571.5 L157.7,567.2 C152,565 149.5,556 152,551 C153.5,548.5 156,547 158.8,547 Z" fill="#fff"/>
<path class="n" d="M158.8,547 L178,556 M157.7,567.2 L172,573.2 M158.8,547 C155,547.5 151,550 150.6,554 C150.3,558.5 152,563.5 157.7,567.2" stroke-width="1.1"/>
<path d="M188,553.9 C176,556 169,568 170.3,575.8 C171,582 174,586 178.7,588 L191.7,593.6 C189,590 187,584 187,576.7 C187.5,571 192,566 199.2,563.7 C199,560 195,555 188,553.9 Z" fill="#fff"/>
<path class="n" d="M188,553.9 C176,556 169,568 170.3,575.8 C171,582 174,586 178.7,588 M191.7,555.3 C180,558 173.5,568 174,575.8 C174.5,582 178,587 182.4,589.8 M195.5,557.1 C184,560 178.5,568 178.7,574.9 C179,582 182,589 186.1,592.6 M197.3,560 C188,563 183.5,569 183.3,575.8 C183.5,583 187,590 191.7,593.6 M199.2,563.7 C192,566 187.5,571 187,576.7 C186.8,581 188,586 189.9,588.9 C191,590.5 193.5,590 194,588.5" stroke-width="1.35"/>
<path class="n" d="M188,553.9 C192,553 196,554 199,556.5 M178.7,588 C180,590 183,591 186.1,592.6"/>
<path class="n" d="M197.3,554.3 C199,551.5 199.5,548 201.1,545 L220.3,530 C221.5,529.3 222.5,531 221.5,532 L203.8,546.5 C202.5,548.5 202.5,552 203.5,554.5 L228.3,544.7 C229.5,544.5 230,546 229,546.8 L204.5,557 C204,559 203,561 201.5,562"/>
<path class="p" d="M206.7,573 L219.8,575.8 C222,577 224,578.5 225.4,580.5 C226.5,584 226.5,592 224,597 C222,600 219,601.5 215,601 L210.4,600.1 L201.1,593.6 C198.5,590 198,587 199.2,584.2 C200.5,579 203,575 206.7,573 Z"/>
<ellipse class="n" cx="218.6" cy="589.3" rx="6.8" ry="11.8" transform="rotate(22 218.6 589.3)"/><path d="M215.1,582.3 C219,581.5 222,581.8 224.4,582.3 L228.5,585.6 L226,599 L214.2,599.4 C211,596 210,592 210.9,589.8 C211,586 213,583.5 215.1,582.3 Z" fill="#fff"/><path class="n" d="M215.1,582.3 C211.5,585 210.5,588 210.9,589.8 C211,593 212,597 214.2,599.2 M224.4,582.3 L228.5,585.8"/>
<g transform="translate(110,528.3) rotate(30)"><path class="p" d="M351,-8.2 H360 A3.69,8.2 0 0 1 360,8.2 H351 A3.69,8.2 0 0 1 351,-8.2 Z"/><path class="n" d="M352.5,-7.71 H359.5M352.5,-6.28 H359.5M352.5,-4.10 H359.5M352.5,-1.42 H359.5M352.5,1.42 H359.5M352.5,4.10 H359.5M352.5,6.28 H359.5M352.5,7.71 H359.5" stroke-width="0.8"/><path class="p" d="M360,-7.4 H362 A3.33,7.4 0 0 1 362,7.4 H360 A3.33,7.4 0 0 1 360,-7.4 Z"/><path class="p" d="M362,-8.2 H372 A3.69,8.2 0 0 1 372,8.2 H362 A3.69,8.2 0 0 1 362,-8.2 Z"/><path class="n" d="M363.5,-7.71 H370M363.5,-6.28 H370M363.5,-4.10 H370M363.5,-1.42 H370M363.5,1.42 H370M363.5,4.10 H370M363.5,6.28 H370M363.5,7.71 H370" stroke-width="0.8"/><ellipse class="p" cx="372" cy="0" rx="3.6" ry="8.2"/></g>
<g transform="translate(251.5,570.5) rotate(29)"><path class="p" d="M-2,-5 H-12 C-15.5,-5 -15.5,5 -12,5 H-2 Z"/><path class="p" d="M-2.5,-7.8 H0 A3.9,7.8 0 0 1 0,7.8 H-2.5 A3.9,7.8 0 0 1 -2.5,-7.8 Z"/><ellipse class="p" cx="0" cy="0" rx="3.9" ry="7.8"/><path class="p" d="M0,-3.6 H11.5 A1.7,3.6 0 0 1 11.5,3.6 H0 Z"/><path class="n" d="M2.62,-3.6 v7.2M4.88,-3.6 v7.2M7.12,-3.6 v7.2M9.38,-3.6 v7.2" stroke-width="0.6"/><ellipse class="p" cx="11.5" cy="0" rx="1.7" ry="3.6"/></g>
<path class="p" d="M298.4,522.8 C299,518 300,515.5 301.5,513.5 C304,510.5 306.5,509.3 308.7,508.9 L314.9,509.4 L319,510.4 L319.5,506.3 C320.5,505 321.3,504.8 322.1,504.8 C324,504.8 325.5,505.2 326.2,505.8 L327.2,509.4 L326.7,514 L329.3,516.6 C331.5,518 333,519 334.4,520.7 C336,522.5 337,524 337.5,525.9 C338,529 337.8,531.5 337,534.1 C336.3,536.5 335.5,538 334.4,539.3 L332.9,541.3 L334.4,546.5 L338.6,553.7 L340.6,560.9 L338.6,565 L335.5,566.1 L331.3,564 L330.3,558.9 L330.3,554.7 C329,552.5 327.5,551 326.2,550.6 L323.1,549.6 C320,550 318,551 315.9,552.7 C312,555.5 310,558 308.7,560.9 C307,564 306,567 305.6,570.2 L303.5,580.5 L302.5,584.6 L298.4,586.7 L294.3,584.6 L293.2,577.4 L295.3,573.3 L297.4,556.8 L299.4,538.3 L298.4,529 Z"/>
<ellipse class="p" cx="329.2" cy="532.3" rx="6.8" ry="9" transform="rotate(25 329.2 532.3)"/><ellipse class="n" cx="329.5" cy="532.3" rx="4.8" ry="7" transform="rotate(25 329.5 532.3)"/><path class="n" d="M305.6,548.6 L319,540.3 M306.6,534.1 L309.7,538.3 M302.5,531 L298.6,583.6 M304.6,529 C303,522 305,515 311.5,512 M308,520 C309,516 312,513.5 317,513 M319.5,510.5 C321,512 325,512 326.7,510 M331.3,563.5 L338.5,564.5"/>
<g transform="translate(349.6,546) rotate(29.3)"><path class="p" d="M0,-8.2 H151 A4.919999999999999,8.2 0 0 1 151,8.2 H0 A4.919999999999999,8.2 0 0 1 0,-8.2 Z"/><ellipse class="p" cx="151" cy="0" rx="4.919999999999999" ry="8.2"/><ellipse class="n" cx="151" cy="0" rx="3.6" ry="6.2"/></g>
<g transform="translate(452,724.5) rotate(30)"><ellipse class="p" cx="-4" cy="0" rx="10.5" ry="18.5"/><path class="p" d="M-4,-18.5 H0 V18.5 H-4 Z" stroke="none"/><path class="n" d="M-4,-18.5 H0 M-4,18.5 H0"/><ellipse class="p" cx="0" cy="0" rx="10.5" ry="18.5"/><ellipse class="n" cx="0.8" cy="0" rx="7.8" ry="14.2"/><ellipse class="n" cx="1.2" cy="0" rx="5.8" ry="10.5"/><path class="n" d="M-2,-8 A4,9 0 0 0 -1,8"/></g>
<path class="p" d="M484.3,696 H493.8 V710 C493.8,712 484.3,712 484.3,710 Z"/><path class="n" d="M484.3,699 Q489,701 493.8,699 M484.3,702 Q489,704 493.8,702 M484.3,705 Q489,707 493.8,705 M484.3,708 Q489,710 493.8,708" stroke-width="0.7"/>
<path class="p" d="M479.5,690.5 C479.5,694 483,696.5 489,696.5 C495,696.5 498,694 498,690.5 C498,688 495,686.5 489,686.5 C483,686.5 479.5,688 479.5,690.5 Z"/><path class="p" d="M481.5,684 V690 C481.5,692.5 496,692.5 496,690 V684 Z"/><ellipse class="p" cx="488.7" cy="684" rx="7.3" ry="2.8"/><path class="n" d="M485,684 V691.5 M492.5,684 V691.5"/>
<path class="p" d="M469.7,729.6 C474,726 480,722 487.3,719.3 C488.5,718.9 489.8,719.2 490.9,719.7 L501.2,726.7 C501.7,731 502,736 501.9,741.3 C501.5,743 501,744.5 500.5,745.7 C498.5,749 496.5,751.3 493.9,753 C491,754.8 488.5,755.7 485.8,756 L479.2,756 L474.1,756.7 L469.7,758.9 L465.3,764.8 L457.2,778.8 C455,782 453,784 450.6,785.4 L437.4,794.2 L417.6,816.2 L400,829.4 L389,839.3 L386.8,847 L389,849.2 L375.8,848 L373.6,849.2 L375.8,829.4 L378,822.8 L389,811.8 L417.6,789.8 L441.8,772.2 L450.6,759 L455,746.5 L457.9,742.8 L463,737.7 L466,734.7 Z"/>
<path class="n" d="M468.2,741.4 C462,748 455,758 448.4,765.6 L441.8,781 L389,820.6 L381.3,833.8 M465,753 L466,757 M448,777 L449.5,781.5 M382,833 L383,838 M385.5,832 L386.5,837 M490.2,734 L501.2,728.9 M493.1,740.6 L501.9,736.9 M470.4,734.7 C472,740 472.5,748 471.9,753.8 M478.5,739.9 C476.5,744 476,749 476.3,753"/>
<path class="n" d="M485.8,724.5 C484,726 484.5,728.5 487.5,729 C490,729.3 492.5,728.3 493.1,726.5 C493.2,725.5 492.8,724.5 492,723.9"/>
<ellipse class="p" cx="486.7" cy="746.2" rx="6.2" ry="9.2" transform="rotate(22 486.7 746.2)"/><path class="n" d="M481.0,752.5 L485.0,740.5 M482.4,752.3 L486.4,740.3 M483.7,752.1 L487.7,740.1 M485.1,751.9 L489.1,739.9 M486.4,751.7 L490.4,739.7 M487.8,751.5 L491.8,739.5 M489.1,751.3 L493.1,739.3 M490.4,751.1 L494.4,739.1 " stroke-width="0.6"/>
<path class="p" d="M353,860 C355,853 365,848 374.7,846.4 L412,863 C418,865 422,866.5 422.7,868.8 C424,873 424,877 423.2,880.5 C422.5,887 421.5,891 420.5,893.3 C418.5,897 416.5,899 414.1,899.7 C408,901.5 401,902.5 396,901.9 L357.6,880.5 C354,877 352.3,872 352.3,866.7 Z"/>
<path d="M376.0,847.5 C367.0,851.5 357.5,866.0 360.5,878.0 M380.9,849.8 C371.9,853.8 362.4,868.8 365.4,880.8 M385.8,852.1 C376.8,856.1 367.3,871.6 370.3,883.6 M390.7,854.4 C381.7,858.4 372.2,874.4 375.2,886.4 M395.6,856.7 C386.6,860.7 377.1,877.2 380.1,889.2 M400.5,859.0 C391.5,863.0 382.0,880.0 385.0,892.0 M405.4,861.3 C396.4,865.3 386.9,882.8 389.9,894.8 M410.3,863.6 C401.3,867.6 391.8,885.6 394.8,897.6 " fill="none" stroke="#111" stroke-width="2.3" stroke-linecap="round"/><path d="M376.0,847.5 C367.0,851.5 357.5,866.0 360.5,878.0 M380.9,849.8 C371.9,853.8 362.4,868.8 365.4,880.8 M385.8,852.1 C376.8,856.1 367.3,871.6 370.3,883.6 M390.7,854.4 C381.7,858.4 372.2,874.4 375.2,886.4 M395.6,856.7 C386.6,860.7 377.1,877.2 380.1,889.2 M400.5,859.0 C391.5,863.0 382.0,880.0 385.0,892.0 M405.4,861.3 C396.4,865.3 386.9,882.8 389.9,894.8 M410.3,863.6 C401.3,867.6 391.8,885.6 394.8,897.6 " fill="none" stroke="#fff" stroke-width="0.6"/>
<path class="n" d="M356,858 C354,864 355,872 358,878"/>
<ellipse class="p" cx="410" cy="885.5" rx="14.2" ry="9.2" transform="rotate(-43 410 885.5)"/><ellipse class="n" cx="410.3" cy="885.8" rx="11.3" ry="6.4" transform="rotate(-43 410.3 885.8)"/>
<rect class="p" x="575.3" y="699.2" width="43" height="65.6" rx="4.5" ry="4.5" stroke-width="1.2"/><rect x="580" y="703.5" width="35" height="57" fill="none" stroke="#111" stroke-width="1.4"/>
<path class="p" d="M583.5,736 C583.5,727 585,720 589,714 L586.5,713 L596.5,706.5 L600.5,716 L598,715.5 C594,721 592,728 591.5,736 Z"/>
<path class="p" d="M583.5,740 L591,740 L594,742 L611.5,740 L611.5,746.5 L594,745 L591,747 L583.5,747 Z"/><path class="l" d="M584,753.5 H611"/>
<path d="M140.2,800.8 L149.8,786.4 L151.4,789.2 L169.4,778 L171,779.5 L171,790.4 L151.4,803.6 L151,806.4 Z" fill="#111"/><path d="M141.5,799.5 L149.8,787.5 M151.6,790 L169,779" stroke="#fff" stroke-width="0.6" fill="none"/>
<text x="0" y="0" transform="translate(151.8,800.8) skewY(-31) scale(0.62,1)" style="font-family:'Liberation Sans',sans-serif;font-size:13.5px;fill:#fff;">FWD</text>
<!--LEADERS-->
<g class="l">
<path d="M397.3,43.7V63.7"/>
<path d="M417.7,71V81M417.7,96V107L465.3,79V50.3M436,56.3V69.7M436,81.7V96M441.3,93.4V111.7"/>
<path d="M325.7,96V122.7"/>
<path d="M377.6,138V164.8"/>
<path d="M186.6,134V167M201,146.5V172M224,155.5V184M252.6,177.5V205M276,189.5V215M301,215.5V243"/>
<path d="M503.6,134.8V162M520.2,141.5V168.7M538.3,148.5V176.7M591.4,161.8V189.2M607.2,228.8V257.2"/>
<path d="M433.8,168.6V196.4M486,199V226"/>
<path d="M576.6,306V334"/>
<path d="M320.5,313.8V342.6M359,301V328.2M400.5,313.8V325.5M389.8,327.4V321.8L401,325.8L410.6,333V352.2"/>
<path d="M438.9,346.9V374"/>
<path d="M513,379.2V393.3M476.3,385.6V372.8L548.9,413.3V432.5"/>
<path d="M476.3,398.4V409L468.9,416.5"/>
<path d="M368.9,416.8V444.8M393.1,431.7V461.6"/>
<path d="M238,423.8H281.3V472.2H274M281.3,448.5H293.7"/>
<path d="M243.2,471.1L254.5,472.2"/>
<path d="M666.8,468V496M588.4,546.4V574.4M606.7,557.6V585.6M667.7,563.2V593"/>
<path d="M252.7,534V563.3M336.8,566.8V590.8M404,587.6V616.4M178.5,588.7V616.7M207.9,596.7V627.3"/>
<path d="M448.4,672V706M498,689.2H532M596.3,671.2V698.4"/>
<path d="M417.3,816.7H492V872.7H469.3M492,846H518.7M425.3,873.2H445.3"/>
<path d="M604.2,504.6L611,509L595.4,518.1M593.6,519.2L590.4,521.1M588.6,522.1L571.8,531.8L579,536.6"/>
<path d="M576.8,208.4V238L587.5,232.2" stroke-dasharray="8,2,2,2"/>
</g>
<!--LABELS-->
<text class="t" transform="translate(397.7 41.7) scale(0.92 1)">23</text>
<text class="t" transform="translate(435.7 80.3) scale(0.92 1)">20</text>
<text class="t" transform="translate(417.4 91.7) scale(0.92 1)"> 9</text><polygon points="413.45,91.70 413.45,83.18 411.43,84.75 411.43,83.58 413.54,82.00 414.59,82.00 414.59,91.70" fill="#111" stroke="#111" stroke-width="0.2"/>
<text class="t" transform="translate(441.4 122.9) scale(0.92 1)"> 8</text><polygon points="437.45,122.90 437.45,114.38 435.43,115.95 435.43,114.78 437.54,113.20 438.59,113.20 438.59,122.90" fill="#111" stroke="#111" stroke-width="0.2"/>
<text class="t" transform="translate(325.0 135.3) scale(0.92 1)">7</text>
<text class="t" transform="translate(377.1 134.6) scale(0.92 1)">3</text>
<text class="t" transform="translate(187.0 131.4) scale(0.92 1)">26</text>
<text class="t" transform="translate(201.0 144.0) scale(0.92 1)">25</text>
<text class="t" transform="translate(223.8 153.0) scale(0.92 1)">2 </text><polygon points="227.06,153.00 227.06,144.48 225.05,146.05 225.05,144.88 227.16,143.30 228.21,143.30 228.21,153.00" fill="#111" stroke="#111" stroke-width="0.2"/>
<text class="t" transform="translate(253.0 175.0) scale(0.92 1)">22</text>
<text class="t" transform="translate(276.5 187.0) scale(0.92 1)"> 7</text><polygon points="272.55,187.00 272.55,178.48 270.53,180.05 270.53,178.88 272.64,177.30 273.69,177.30 273.69,187.00" fill="#111" stroke="#111" stroke-width="0.2"/>
<text class="t" transform="translate(301.0 213.0) scale(0.92 1)">24</text>
<text class="t" transform="translate(503.7 132.2) scale(0.92 1)">9</text>
<text class="t" transform="translate(520.5 139.5) scale(0.92 1)">8</text>
<text class="t" transform="translate(538.8 146.2) scale(0.92 1)">32</text>
<text class="t" transform="translate(591.2 159.7) scale(0.92 1)">36</text>
<text class="t" transform="translate(607.7 269.7) scale(0.92 1)">37</text>
<polygon points="433.05,166.20 433.05,157.68 431.04,159.25 431.04,158.08 433.15,156.50 434.20,156.50 434.20,166.20" fill="#111" stroke="#111" stroke-width="0.2"/>
<polygon points="485.45,196.40 485.45,187.88 483.44,189.45 483.44,188.28 485.55,186.70 486.60,186.70 486.60,196.40" fill="#111" stroke="#111" stroke-width="0.2"/>
<text class="t" transform="translate(575.8 346.5) scale(0.92 1)">4</text>
<text class="t" transform="translate(319.4 310.6) scale(0.92 1)"> 5</text><polygon points="315.45,310.60 315.45,302.08 313.43,303.65 313.43,302.48 315.54,300.90 316.59,300.90 316.59,310.60" fill="#111" stroke="#111" stroke-width="0.2"/>
<text class="t" transform="translate(358.6 297.8) scale(0.92 1)"> 2</text><polygon points="354.65,297.80 354.65,289.28 352.63,290.85 352.63,289.68 354.74,288.10 355.79,288.10 355.79,297.80" fill="#111" stroke="#111" stroke-width="0.2"/>
<text class="t" transform="translate(400.2 310.6) scale(0.92 1)"> 0</text><polygon points="396.25,310.60 396.25,302.08 394.23,303.65 394.23,302.48 396.34,300.90 397.39,300.90 397.39,310.60" fill="#111" stroke="#111" stroke-width="0.2"/>
<polygon points="385.05,340.20 385.05,331.68 383.03,333.25 383.03,332.08 385.14,330.50 386.19,330.50 386.19,340.20" fill="#111" stroke="#111" stroke-width="0.2"/><polygon points="392.26,340.20 392.26,331.68 390.25,333.25 390.25,332.08 392.36,330.50 393.41,330.50 393.41,340.20" fill="#111" stroke="#111" stroke-width="0.2"/>
<text class="t" transform="translate(439.2 343.2) scale(0.92 1)"> 4</text><polygon points="435.25,343.20 435.25,334.68 433.23,336.25 433.23,335.08 435.34,333.50 436.39,333.50 436.39,343.20" fill="#111" stroke="#111" stroke-width="0.2"/>
<text class="t" transform="translate(513.4 376.6) scale(0.92 1)">5</text>
<text class="t" transform="translate(476.3 395.0) scale(0.92 1)">6</text>
<text class="t" transform="translate(369.0 457.9) scale(0.92 1)"> 3</text><polygon points="365.05,457.90 365.05,449.38 363.03,450.95 363.03,449.78 365.14,448.20 366.19,448.20 366.19,457.90" fill="#111" stroke="#111" stroke-width="0.2"/>
<text class="t" transform="translate(394.2 472.8) scale(0.92 1)"> 6</text><polygon points="390.25,472.80 390.25,464.28 388.23,465.85 388.23,464.68 390.34,463.10 391.39,463.10 391.39,472.80" fill="#111" stroke="#111" stroke-width="0.2"/>
<text class="t" transform="translate(304.0 453.6) scale(0.92 1)">27</text>
<text class="t" transform="translate(264.3 477.3) scale(0.92 1)">28</text>
<text class="t" transform="translate(667.3 465.2) scale(0.92 1)">39</text>
<text class="t" transform="translate(587.5 587.5) scale(0.92 1)">4 </text><polygon points="590.76,587.50 590.76,578.98 588.75,580.55 588.75,579.38 590.86,577.80 591.91,577.80 591.91,587.50" fill="#111" stroke="#111" stroke-width="0.2"/>
<text class="t" transform="translate(606.6 597.7) scale(0.92 1)">40</text>
<text class="t" transform="translate(667.3 604.3) scale(0.92 1)">42</text>
<text class="t" transform="translate(253.3 531.3) scale(0.92 1)">30</text>
<text class="t" transform="translate(336.8 606.8) scale(0.92 1)">2</text>
<text class="t" transform="translate(403.2 630.8) scale(0.92 1)">4</text>
<text class="t" transform="translate(178.6 630.0) scale(0.92 1)">33</text>
<text class="t" transform="translate(208.0 640.7) scale(0.92 1)">29</text>
<text class="t" transform="translate(449.0 670.0) scale(0.92 1)">3 </text><polygon points="452.26,670.00 452.26,661.48 450.25,663.05 450.25,661.88 452.36,660.30 453.41,660.30 453.41,670.00" fill="#111" stroke="#111" stroke-width="0.2"/>
<text class="t" transform="translate(544.0 696.0) scale(0.92 1)">38</text>
<text class="t" transform="translate(596.0 666.4) scale(0.92 1)">43</text>
<text class="t" transform="translate(529.3 851.3) scale(0.92 1)">34</text>
<text class="t" transform="translate(456.6 878.0) scale(0.92 1)">35</text>
<text x="72.6" y="28.3" style="font-family:'Liberation Sans',sans-serif;font-weight:bold;font-size:25px;fill:#111;">FIG.23</text>
<text x="74.5" y="942.7" style="font-family:'Liberation Sans',sans-serif;font-size:13.4px;fill:#111;stroke:#111;stroke-width:0.2;">LT-F500FK3 E03 E28_023</text>
<text x="74.5" y="961.3" style="font-family:'Liberation Sans',sans-serif;font-size:13.4px;fill:#111;stroke:#111;stroke-width:0.2;">GEAR SHIFTING ( )</text><polygon points="190.20,961.30 190.20,953.21 188.12,954.69 188.12,953.58 190.30,952.08 191.38,952.08 191.38,961.30" fill="#111" stroke="#111" stroke-width="0"/>
<text x="0" y="0" transform="translate(299.5 966.8) scale(0.82 1)" style="font-family:'Liberation Sans',sans-serif;font-size:13.4px;fill:#222;">Rendered by LeadVenture, Inc.</text>
</svg>
</body></html>
